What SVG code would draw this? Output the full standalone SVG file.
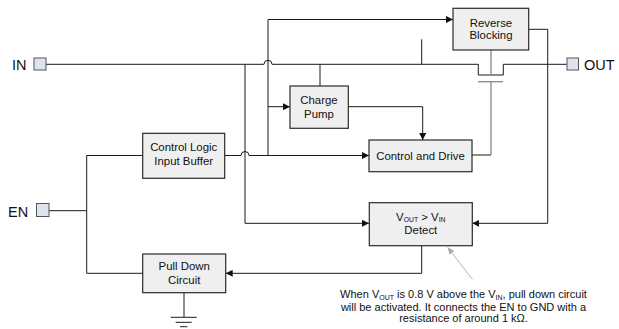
<svg xmlns="http://www.w3.org/2000/svg" width="619" height="329" viewBox="0 0 619 329">
<defs>
<marker id="arr" markerWidth="8" markerHeight="7" refX="7" refY="3.5" orient="auto" markerUnits="userSpaceOnUse">
<path d="M0,0 L7,3.5 L0,7 z" fill="#111"/>
</marker>
<marker id="arrg" markerWidth="8" markerHeight="7" refX="7" refY="3.5" orient="auto" markerUnits="userSpaceOnUse">
<path d="M0,0.5 L7,3.5 L0,6.5 z" fill="#aaa"/>
</marker>
</defs>
<style>
.box{fill:#efefef;stroke:#2a2a2a;stroke-width:1.2}
.pin{fill:#dde4ee;stroke:#555;stroke-width:1}
.t{font-family:"Liberation Sans",Arial,sans-serif;font-size:11.4px;fill:#111;text-anchor:middle}
.lbl{font-family:"Liberation Sans",Arial,sans-serif;font-size:14.5px;fill:#111}
.note{font-family:"Liberation Sans",Arial,sans-serif;font-size:11px;fill:#111;text-anchor:middle}
.w{fill:none;stroke:#1a1a1a;stroke-width:1}
.g{fill:none;stroke:#888;stroke-width:1.3}
</style>
<rect width="619" height="329" fill="#fff"/>
<g id="connectors">
<path class="w" d="M46,64.3 H264 a4,4 0 0 1 8,0 H478.3 V75 H503.3 V64.3 H566.7"/>
<path class="w" d="M245,64.3 V223.3 H369" marker-end="url(#arr)"/>
<path class="w" d="M225,155.5 H241 a4,4 0 0 1 8,0 H369" marker-end="url(#arr)"/>
<path class="w" d="M268,155.5 V19.5 H453" marker-end="url(#arr)"/>
<path class="w" d="M268,106.7 H290" marker-end="url(#arr)"/>
<path class="w" d="M320,64.3 V86"/>
<path class="w" d="M421.7,39.3 V64.3"/>
<path class="w" d="M348.3,106.7 H422.7 V140" marker-end="url(#arr)"/>
<path class="w" d="M472,155 H491"/>
<path class="g" d="M491,155 V81.7"/>
<path class="g" d="M478,81.7 H503"/>
<path class="g" d="M491,50 V75"/>
<path class="w" d="M528.7,29.3 H547.7 V223.3 H472.3" marker-end="url(#arr)"/>
<path class="w" d="M421.7,245.7 V273.3 H225.7" marker-end="url(#arr)"/>
<path class="w" d="M49,210.7 H86.7"/>
<path class="w" d="M142.7,155.5 H86.7 V273.3 H142.7"/>
<path class="w" d="M184,292.7 V317.3 M170.7,317.3 H196.7 M175.7,322.3 H191.7 M180,326.7 H187.3"/>
<path d="M472.3,279.3 L447.7,247.3" fill="none" stroke="#aaa" stroke-width="0.9" marker-end="url(#arrg)"/>
</g>
<g id="pin-in">
<rect class="pin" x="34" y="58" width="12" height="12"/>
<text class="lbl" x="12" y="70">IN</text>
</g>
<g id="pin-out">
<rect class="pin" x="567" y="58" width="11.5" height="12"/>
<text class="lbl" x="584" y="70">OUT</text>
</g>
<g id="pin-en">
<rect class="pin" x="36.5" y="203.5" width="12.5" height="13"/>
<text class="lbl" x="8" y="216.5">EN</text>
</g>
<g id="reverse-blocking">
<rect class="box" x="453" y="8.3" width="75.7" height="41.7"/>
<text class="t" x="491" y="27">Reverse</text>
<text class="t" x="491" y="39">Blocking</text>
</g>
<g id="charge-pump">
<rect class="box" x="290" y="86" width="58.3" height="42.3"/>
<text class="t" x="319" y="104">Charge</text>
<text class="t" x="319" y="118">Pump</text>
</g>
<g id="control-logic">
<rect class="box" x="142.7" y="133.3" width="82" height="45"/>
<text class="t" x="183.7" y="150.5">Control Logic</text>
<text class="t" x="183.7" y="164.5">Input Buffer</text>
</g>
<g id="control-drive">
<rect class="box" x="369" y="140" width="103" height="31.7"/>
<text class="t" x="420.5" y="159.5">Control and Drive</text>
</g>
<g id="detect">
<rect class="box" x="369.3" y="202.7" width="103" height="43"/>
<text class="t" x="420.8" y="220.5">V<tspan font-size="6.8" dy="1.5">OUT</tspan><tspan dy="-1.5"> &gt; V</tspan><tspan font-size="6.8" dy="1.5">IN</tspan></text>
<text class="t" x="420.8" y="234">Detect</text>
</g>
<g id="pull-down">
<rect class="box" x="142.7" y="254" width="83" height="38.7"/>
<text class="t" x="184.2" y="270">Pull Down</text>
<text class="t" x="184.2" y="283.5">Circuit</text>
</g>
<g id="note">
<text class="note" x="463.5" y="298">When V<tspan font-size="7" dy="1.5">OUT</tspan><tspan dy="-1.5"> is 0.8 V above the V</tspan><tspan font-size="7" dy="1.5">IN</tspan><tspan dy="-1.5">, pull down circuit</tspan></text>
<text class="note" x="463.5" y="310.5">will be activated. It connects the EN to GND with a</text>
<text class="note" x="463.5" y="321.5">resistance of around 1 kΩ.</text>
</g>
</svg>
